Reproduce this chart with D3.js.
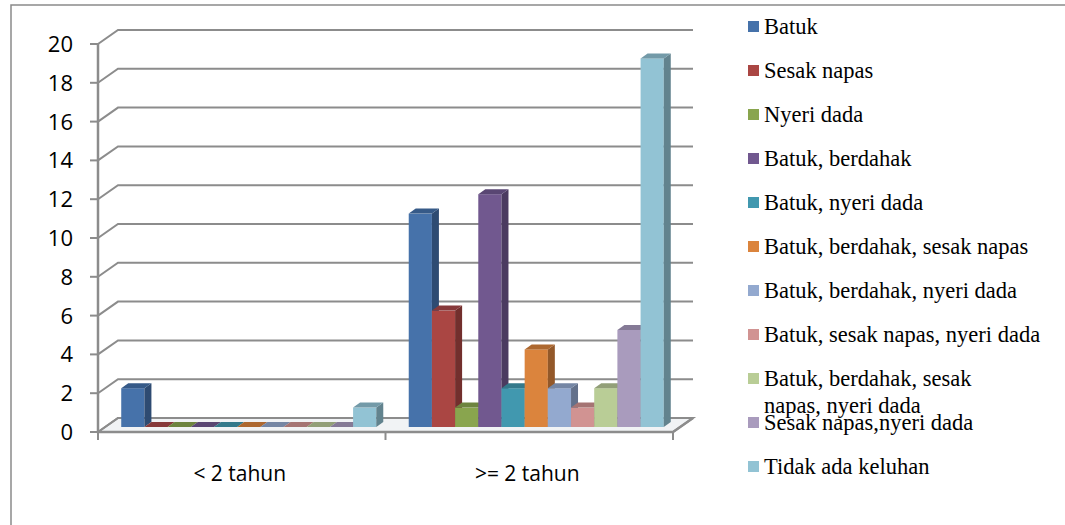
<!DOCTYPE html>
<html>
<head>
<meta charset="utf-8">
<script src="https://cdn.jsdelivr.net/npm/d3@7/dist/d3.min.js"></script>
<style>
  html, body { margin: 0; padding: 0; background: #ffffff; }
  svg { display: block; }
</style>
</head>
<body>
<svg id="chart" width="1065" height="525"></svg>
<script>
// Keluhan pernapasan menurut lama paparan
const categories = ["< 2 tahun", ">= 2 tahun"];
const seriesNames = [
  "Batuk",
  "Sesak napas",
  "Nyeri dada",
  "Batuk, berdahak",
  "Batuk, nyeri dada",
  "Batuk, berdahak, sesak napas",
  "Batuk, berdahak, nyeri dada",
  "Batuk, sesak napas, nyeri dada",
  "Batuk, berdahak, sesak napas, nyeri dada",
  "Sesak napas,nyeri dada",
  "Tidak ada keluhan"
];
const valuesUnder2 = [2, 0, 0, 0, 0, 0, 0, 0, 0, 0, 1];
const valuesOver2 = [11, 6, 1, 12, 2, 4, 2, 1, 2, 5, 19];
const yTicks = [0, 2, 4, 6, 8, 10, 12, 14, 16, 18, 20];
const frontColors = ["#4672aa", "#aa4643", "#89a54e", "#71588f", "#4198af", "#db843d",
                     "#93a9cf", "#d19392", "#b9cd96", "#a99bbd", "#92c3d4"];
const sideColors  = ["#2e4b72", "#722f2d", "#5c6f34", "#4b3b60", "#2b6675", "#935829",
                     "#63718b", "#8c6262", "#7c8964", "#71687f", "#62838e"];
const topColors   = ["#365a88", "#87393a", "#6d843f", "#594673", "#33798b", "#ad6830",
                     "#7586a4", "#a57473", "#929f78", "#857a96", "#739aa8"];
// legend labels, with the long one split over two lines
const legendLines = seriesNames.map(n =>
  n === "Batuk, berdahak, sesak napas, nyeri dada" ? ["Batuk, berdahak, sesak", "napas, nyeri dada"] : [n]);

const seriesValues = [valuesUnder2, valuesOver2];

const svg = d3.select("#chart");
const gridColor = "#8c8c8c";

// plot geometry
const left = 98, right = 673;
const depthX = 20, depthY = 14;   // perspective offset of the back wall
const barDX = 7, barDY = 5;       // bar depth
const barShiftX = 7, barShiftY = 5; // bars stand slightly inside the floor

const x = d3.scaleBand().domain(categories).range([left, right]).paddingInner(0).paddingOuter(0);
const xs = d3.scaleBand().domain(d3.range(seriesNames.length)).range([0, x.bandwidth()])
  .paddingInner(0).paddingOuter(0.7);
const y = d3.scaleLinear().domain([0, 20]).range([432, 44]);

// outer frame
svg.append("path")
  .attr("d", "M11,525 L11,5 L1065,5")
  .attr("fill", "none").attr("stroke", "#8a8a8a").attr("stroke-width", 1.5);

// floor
const floorPts = [[left, y(0)], [left + depthX, y(0) - depthY], [right + depthX, y(0) - depthY], [right, y(0)]];
svg.append("polygon")
  .attr("points", floorPts.map(p => p.join(",")).join(" "))
  .attr("fill", "#f1f3f5").attr("stroke", gridColor).attr("stroke-width", 2);

// gridlines on the back wall, with the diagonal from the axis
const grid = svg.append("g");
yTicks.forEach(t => {
  const yy = y(t);
  grid.append("path")
    .attr("d", `M${left},${yy} L${left + depthX},${yy - depthY} L${right + depthX},${yy - depthY}`)
    .attr("fill", "none").attr("stroke", gridColor).attr("stroke-width", 2);
});

// bars
const bars = svg.append("g");
categories.forEach((cat, ci) => {
  seriesValues[ci].forEach((v, si) => {
    const x0 = x(cat) + xs(si) + barShiftX;
    const w = xs.bandwidth();
    const yb = y(0) - barShiftY;
    const yt = y(v) - barShiftY;
    const g = bars.append("g");
    if (v > 0) {
      g.append("rect").attr("x", x0).attr("y", yt).attr("width", w).attr("height", yb - yt)
        .attr("fill", frontColors[si]);
      g.append("polygon")
        .attr("points", [[x0 + w, yt], [x0 + w + barDX, yt - barDY], [x0 + w + barDX, yb - barDY], [x0 + w, yb]]
          .map(p => p.join(",")).join(" "))
        .attr("fill", sideColors[si]);
    }
    g.append("polygon")
      .attr("points", [[x0, yt], [x0 + barDX, yt - barDY], [x0 + w + barDX, yt - barDY], [x0 + w, yt]]
        .map(p => p.join(",")).join(" "))
      .attr("fill", topColors[si]);
  });
});

// front edge of the floor and the y axis
svg.append("path")
  .attr("d", `M${left},${y(20)} L${left},${y(0)} L${right},${y(0)} L${right + depthX},${y(0) - depthY}`)
  .attr("fill", "none").attr("stroke", gridColor).attr("stroke-width", 2.5);

// y axis ticks and labels
const yAxis = svg.append("g");
yTicks.forEach(t => {
  yAxis.append("line").attr("x1", left - 8).attr("x2", left).attr("y1", y(t)).attr("y2", y(t))
    .attr("stroke", gridColor).attr("stroke-width", 2);
  yAxis.append("text").attr("x", 73).attr("y", y(t)).attr("dy", "0.36em")
    .attr("text-anchor", "end")
    .style("font-family", "'Open Sans', sans-serif").style("font-size", "22px").style("fill", "#000")
    .text(t);
});

// x axis ticks and category labels
const xEdges = [left, ...categories.map(c => x(c) + x.bandwidth())];
xEdges.forEach(e => {
  svg.append("line").attr("x1", e).attr("x2", e).attr("y1", y(0)).attr("y2", y(0) + 8)
    .attr("stroke", gridColor).attr("stroke-width", 2);
});
categories.forEach(c => {
  svg.append("text").attr("x", x(c) + x.bandwidth() / 2 - 2).attr("y", 481)
    .attr("text-anchor", "middle")
    .style("font-family", "'Open Sans', sans-serif").style("font-size", "21px").style("fill", "#000")
    .text(c);
});

// legend
const legend = svg.append("g");
seriesNames.forEach((name, i) => {
  const base = 34 + i * 44;
  legend.append("rect").attr("x", 748).attr("y", base - 13).attr("width", 11).attr("height", 11)
    .attr("fill", frontColors[i]);
  const txt = legend.append("text").attr("x", 764).attr("y", base)
    .style("font-family", "'Liberation Serif', 'Times New Roman', serif").style("font-size", "22.5px")
    .style("fill", "#000");
  legendLines[i].forEach((line, li) => {
    txt.append("tspan").attr("x", 764).attr("dy", li === 0 ? 0 : 27).text(line);
  });
});
</script>
</body>
</html>
